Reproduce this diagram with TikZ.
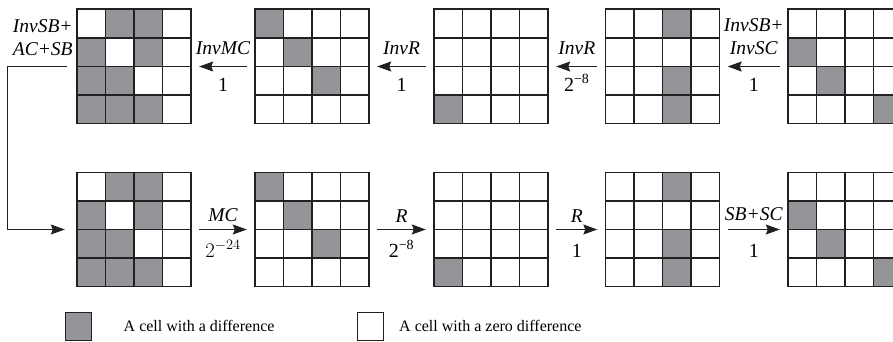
\documentclass[tikz,border=0pt]{standalone}
\usepackage{fontspec}
\setmainfont{Liberation Serif}
\usetikzlibrary{arrows.meta, positioning, calc}
\definecolor{cell-gray}{RGB}{148,149,153}
\definecolor{cell-line}{RGB}{35,31,32}

\newcommand{\cellsize}{28.5}
% state grid: name, centre, gray cells as col/row (row 1 on top)
\newcommand{\stategrid}[3]{%
  \node[gridbox] (#1) at (#2) {};
  \foreach \cx/\cy in {#3}
    \fill[cell-gray] ($(#1.north west)+({(\cx-1)*\cellsize},{-(\cy-1)*\cellsize})$) rectangle ++(\cellsize,-\cellsize);
  \foreach \cy in {1,...,4}
    \foreach \cx in {1,...,4}
      \draw[cellline] ($(#1.north west)+({(\cx-1)*\cellsize},{-(\cy-1)*\cellsize})$) rectangle ++(\cellsize,-\cellsize);
}

\begin{document}
\begin{tikzpicture}[
    x=1pt, y=1pt,
    gridbox/.style={rectangle, minimum size=114pt, inner sep=0pt},
    cellline/.style={draw=cell-line, line width=1.6pt},
    arrow/.style={-{Stealth[length=14pt, width=10pt, inset=2pt]}, line width=1pt, draw=cell-line, shorten <=8pt, shorten >=8pt},
    oplabel/.style={font=\fontsize{19.5}{23}\selectfont\itshape, align=center, inner sep=0pt},
    numlabel/.style={font=\fontsize{20}{22}\selectfont, text height=13pt, text depth=0pt, inner sep=0pt},
    legendbox/.style={rectangle, draw=cell-line, line width=1pt, minimum width=26pt, minimum height=28pt, inner sep=0pt},
    legendtext/.style={font=\fontsize{16}{18}\selectfont, anchor=west, inner sep=0pt}
]
\clip (0,0) rectangle (893,341);

% backward row
\stategrid{back1}{134,274.5}{2/1,3/1,1/2,3/2,1/3,2/3,1/4,2/4,3/4}
\stategrid{back2}{312,274.5}{1/1,2/2,3/3}
\stategrid{back3}{491,274.5}{1/4}
\stategrid{back4}{662.5,274.5}{3/1,3/3,3/4}
\stategrid{back5}{845,274.5}{1/2,2/3,4/4}

% forward row
\stategrid{fwd1}{134,111.5}{2/1,3/1,1/2,3/2,1/3,2/3,1/4,2/4,3/4}
\stategrid{fwd2}{312,111.5}{1/1,2/2,3/3}
\stategrid{fwd3}{491,111.5}{1/4}
\stategrid{fwd4}{662.5,111.5}{3/1,3/3,3/4}
\stategrid{fwd5}{845,111.5}{1/2,2/3,4/4}

\draw[arrow] (back2) -- node[oplabel, above=11pt] {InvMC} node[numlabel, below=11pt] {1} (back1);
\draw[arrow] (back3) -- node[oplabel, above=11pt] {InvR} node[numlabel, below=11pt] {1} (back2);
\draw[arrow] (back4) -- node[oplabel, above=11pt] {InvR} node[numlabel, below=11pt] {2\textsuperscript{−8}} (back3);
\draw[arrow] (back5) -- node[oplabel, above=11pt] {InvSB+\\InvSC} node[numlabel, below=11pt] {1} (back4);

\draw[arrow] (fwd1) -- node[oplabel, above=7pt] {MC} node[numlabel, below=14pt, font=\fontsize{22}{24}\selectfont] {$2^{-24}$} (fwd2);
\draw[arrow] (fwd2) -- node[oplabel, above=7pt] {R} node[numlabel, below=14pt] {2\textsuperscript{−8}} (fwd3);
\draw[arrow] (fwd3) -- node[oplabel, above=7pt] {R} node[numlabel, below=14pt] {1} (fwd4);
\draw[arrow] (fwd4) -- node[oplabel, above=8pt] {SB+SC} node[numlabel, below=14pt] {1} (fwd5);

\node[oplabel, align=right, anchor=east] (looplabel) at ($(back1.north west)+(-4,-28.5)$) {InvSB+\\AC+SB};
\coordinate (loopturn) at (7,274.5);
\draw[arrow, shorten <=10pt, shorten >=12pt] (back1.west) -- (loopturn) |- (fwd1.west);

% legend
\node[legendbox, fill=cell-gray] (diffkey) at (78,15) {};
\node[legendtext, right=32pt of diffkey] (difftext) {A cell with a difference};
\node[legendbox, fill=white] (zerokey) at (370.5,15) {};
\node[legendtext, right=15pt of zerokey] (zerotext) {A cell with a zero difference};

\end{tikzpicture}
\end{document}
